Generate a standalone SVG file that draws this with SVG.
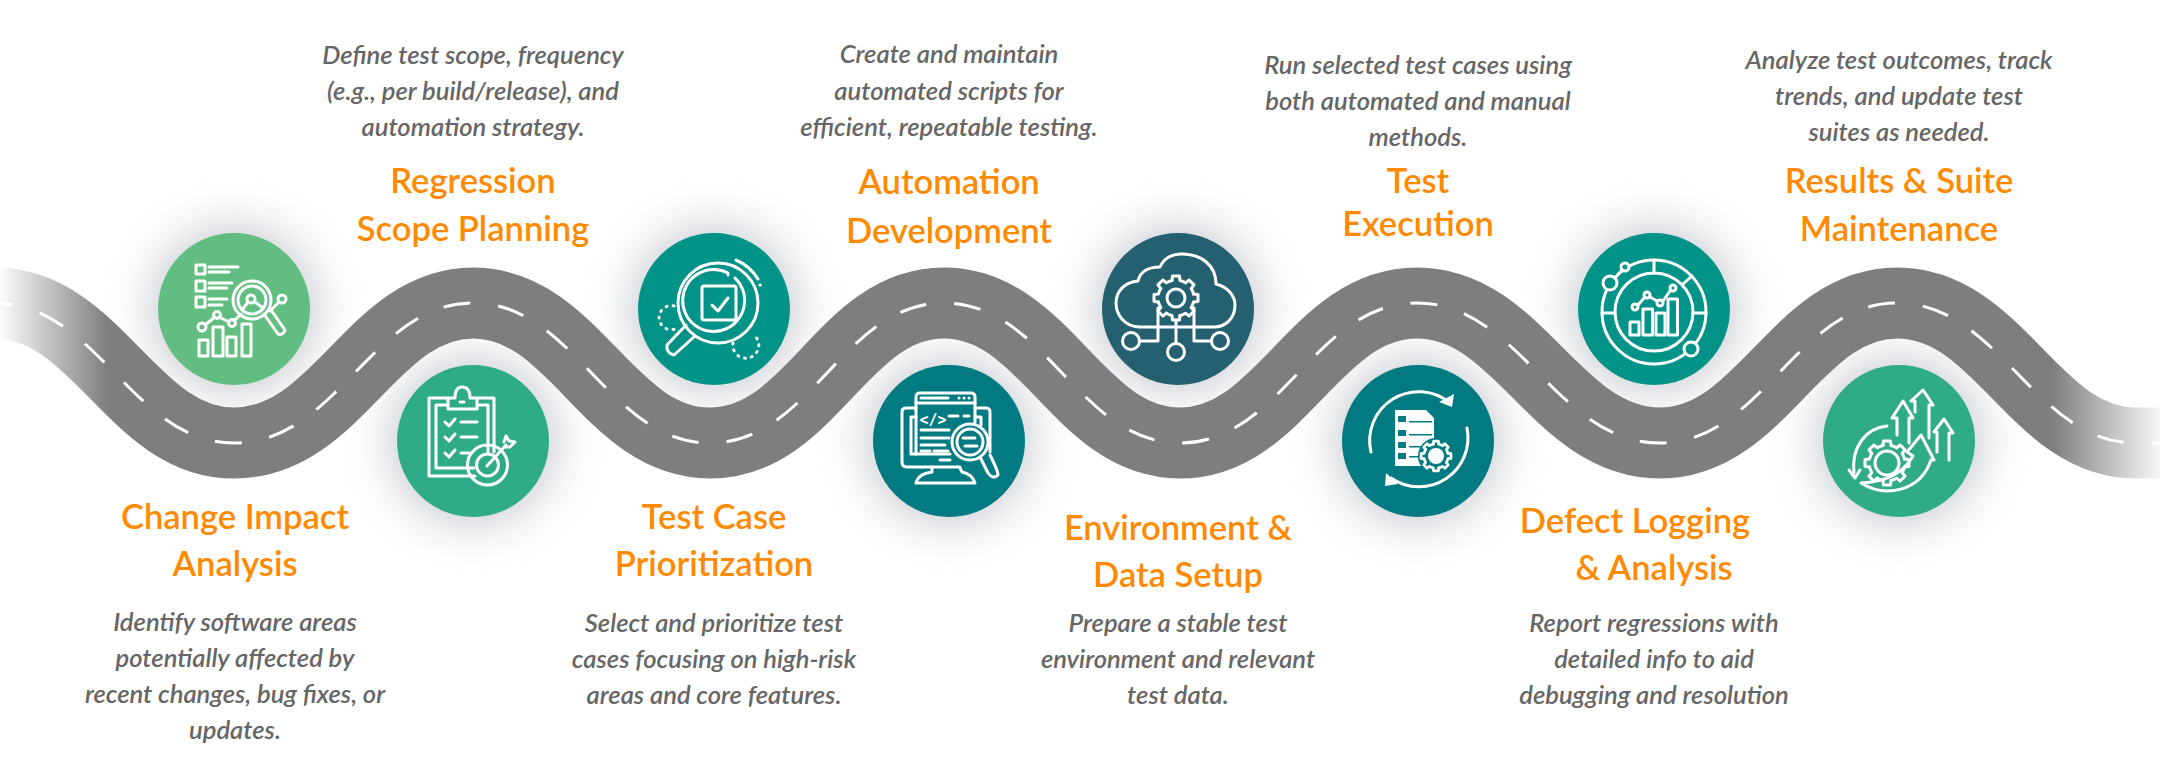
<svg xmlns="http://www.w3.org/2000/svg" xmlns:xlink="http://www.w3.org/1999/xlink" width="2160" height="780" viewBox="0 0 2160 780">
<style>
text{font-family:"Lato","Liberation Sans",sans-serif;text-anchor:middle}
.t{font-size:34.5px;fill:#ff8a00;font-weight:600}
.d{font-size:25.6px;fill:#666;font-style:italic;font-weight:600}
.disc{stroke:none}
.i{fill:none;stroke:#fff;stroke-width:3;stroke-linecap:round;stroke-linejoin:round}
.f{fill:#fff;stroke:none}
.sh{fill:#8d93a0;opacity:.55;filter:url(#blur)}
</style>
<defs>
<filter id="blur" x="-70%" y="-70%" width="240%" height="240%"><feGaussianBlur stdDeviation="24"/></filter>
<linearGradient id="roadg" gradientUnits="userSpaceOnUse" x1="0" y1="0" x2="2160" y2="0">
<stop offset="0" stop-color="#7e7e7e" stop-opacity="0.03"/>
<stop offset="0.05" stop-color="#7e7e7e"/>
<stop offset="0.95" stop-color="#7e7e7e"/>
<stop offset="1" stop-color="#7e7e7e" stop-opacity="0.06"/>
</linearGradient>
<path id="centre" d="M-6 303C98 303 132 443 234 443C338 443 372 303 473 303C575 303 608 443 710 443C812 443 842 303 944 303C1046 303 1078 443 1180 443C1282 443 1314 303 1417 303C1520 303 1556 443 1660 443C1762 443 1796 303 1897 303C2000 303 2034 443 2136 443L2170 443"/>
<g id="gt"><path d="M-4 -17.5L-3.5 -22L3.5 -22L4 -17.5A18 18 0 0 1 9.6 -15.2"/></g>
<g id="gear">
<use href="#gt"/><use href="#gt" transform="rotate(45)"/><use href="#gt" transform="rotate(90)"/><use href="#gt" transform="rotate(135)"/><use href="#gt" transform="rotate(180)"/><use href="#gt" transform="rotate(225)"/><use href="#gt" transform="rotate(270)"/><use href="#gt" transform="rotate(315)"/>
</g>
</defs>
<g id="shadows">
<circle class="sh" cx="234" cy="309" r="80"/><circle class="sh" cx="473" cy="441" r="80"/><circle class="sh" cx="714" cy="309" r="80"/><circle class="sh" cx="949" cy="441" r="80"/><circle class="sh" cx="1178" cy="309" r="80"/><circle class="sh" cx="1418" cy="441" r="80"/><circle class="sh" cx="1654" cy="309" r="80"/><circle class="sh" cx="1899" cy="441" r="80"/>
</g>
<g id="connectors">
<use href="#centre" fill="none" stroke="url(#roadg)" stroke-width="71"/>
<use href="#centre" fill="none" stroke="#fff" stroke-width="3" stroke-dasharray="27 28" stroke-dashoffset="8"/>
</g>

<g id="node-1">
<circle class="disc" cx="234" cy="309" r="76" fill="#62be80"/>
<g class="i">
<rect x="196" y="265" width="9" height="9"/><rect x="196" y="281" width="9" height="10"/><rect x="196" y="297" width="9" height="10"/>
<path d="M209 267H238M209 272H229M209 283H232M209 288H227M209 299H227M209 305H222"/>
<circle cx="252" cy="300" r="19"/><circle cx="252" cy="300" r="14"/><circle cx="251" cy="299" r="4"/>
<path d="M242 310L248 302M255 302L263 308"/>
<path d="M264 314L278 334Q283 336 285 330L271 310"/>
<path d="M205 325L215 317M219 317L229 322M234 321L241 314M270 311L279 302"/>
<circle cx="202" cy="327" r="4"/><circle cx="217" cy="315" r="3.5"/><circle cx="232" cy="323" r="3.5"/><circle cx="282" cy="299" r="4"/>
<rect x="199" y="340" width="9" height="16"/><rect x="213" y="327" width="10" height="29"/><rect x="227" y="337" width="9" height="19"/><rect x="242" y="324" width="9" height="32"/>
</g>
<text class="t" x="235" y="529">Change Impact</text><text class="t" x="235" y="576">Analysis</text>
<text class="d" x="235" y="631">Identify software areas</text><text class="d" x="235" y="667">potentially affected by</text><text class="d" x="235" y="703">recent changes, bug fixes, or</text><text class="d" x="235" y="739">updates.</text>
</g>

<g id="node-2">
<circle class="disc" cx="473" cy="441" r="76" fill="#30ab87"/>
<g class="i">
<path d="M448 398H429V476H475M478 398H494V452"/><path d="M448 405H436V468H474M478 405H488V452"/>
<path d="M448 409V398H455Q455 387 462 387Q470 387 470 398H477V409Z"/><path d="M460 402H464"/>
<path d="M445 422L449 426L455 419M461 422H477M445 437L449 441L455 434M461 437H477M445 453L449 457L455 450M461 453H470"/>
<circle cx="487.500" cy="465" r="20"/><circle cx="487.500" cy="465" r="11"/>
<path d="M487 466L506 445M504 442L506 436L509 441L515 442L510 447L505 447"/>
</g>
<text class="t" x="473" y="193">Regression</text><text class="t" x="473" y="241">Scope Planning</text>
<text class="d" x="473" y="64">Define test scope, frequency</text><text class="d" x="473" y="100">(e.g., per build/release), and</text><text class="d" x="473" y="136">automation strategy.</text>
</g>

<g id="node-3">
<circle class="disc" cx="714" cy="309" r="76" fill="#019288"/>
<g class="i">
<circle cx="718" cy="303" r="40"/><path d="M728 273A31 31 0 1 0 735 278"/>
<rect x="702" y="286" width="34" height="34" rx="2"/>
<path d="M712 305L718 311L728 298"/>
<path d="M736 260Q750 266 758 279"/><path d="M760 285h.1M728 275h.1"/>
<path d="M686 325L667 345Q666 353 674 355L695 336"/>
<path d="M674 306A12 12 0 1 0 675 329" stroke-dasharray="1 6"/>
<path d="M733 343A13 13 0 1 0 755 336" stroke-dasharray="1 6"/>
</g>
<text class="t" x="714" y="529">Test Case</text><text class="t" x="714" y="576">Prioritization</text>
<text class="d" x="714" y="632">Select and prioritize test</text><text class="d" x="714" y="668">cases focusing on high-risk</text><text class="d" x="714" y="704">areas and core features.</text>
</g>

<g id="node-4">
<circle class="disc" cx="949" cy="441" r="76" fill="#017a82"/>
<g class="i">
<path d="M916 408H906Q902 408 902 412V462Q902 467 907 467H960M975 408H986Q990 408 990 412V452"/>
<path d="M916 417H911V454H950M975 417H981V425"/>
<path d="M916 454V397Q916 393 920 393H971Q975 393 975 397V422"/><path d="M916 403H975"/>
<path d="M921 398H948M959 398h.1M964 398h.1M969 398h.1"/>
<path d="M949 416H958M964 416H969M921 430H949M921 438H949M921 445H945M921 451H930M934 451H948"/>
<circle cx="970" cy="442" r="18"/><circle cx="970" cy="442" r="13"/>
<path d="M963 438H975M965 446H977"/>
<path d="M980 457L988 473Q993 480 998 475Q998 471 990 455"/>
<path d="M940 460H950M932 467L932 472Q918 474 916 483H975Q972 474 962 472L960 468"/>
</g>
<text x="933" y="425" style="font-family:'DejaVu Sans Mono',monospace;font-size:15px;font-weight:700;fill:#fff;text-anchor:middle">&lt;/&gt;</text>
<text class="t" x="949" y="194">Automation</text><text class="t" x="949" y="243">Development</text>
<text class="d" x="949" y="63">Create and maintain</text><text class="d" x="949" y="100">automated scripts for</text><text class="d" x="949" y="136">efficient, repeatable testing.</text>
</g>

<g id="node-5">
<circle class="disc" cx="1178" cy="309" r="76" fill="#256070"/>
<g class="i">
<path d="M1158 327H1140C1125 327 1116 315 1116 303C1116 291 1125 282 1138 281C1140 272 1148 267 1160 267C1164 258 1172 254 1182 254C1202 254 1216 266 1216 284C1228 287 1235 296 1235 305C1235 318 1226 327 1214 327H1158"/>
<path d="M1158 308V341H1140M1194 308V341H1211M1176 320V343"/>
<circle cx="1131" cy="341" r="8.500"/><circle cx="1220" cy="341" r="8.500"/><circle cx="1176" cy="352" r="8.500"/>
<circle cx="1176" cy="298" r="9"/>
<use href="#gear" transform="translate(1176 298)"/>
</g>
<text class="t" x="1178" y="540">Environment &amp;</text><text class="t" x="1178" y="587">Data Setup</text>
<text class="d" x="1178" y="632">Prepare a stable test</text><text class="d" x="1178" y="668">environment and relevant</text><text class="d" x="1178" y="704">test data.</text>
</g>

<g id="node-6">
<circle class="disc" cx="1418" cy="441" r="76" fill="#017a82"/>
<path class="f" d="M1395 410H1426L1434 418V462L1428 466H1395Z"/>
<g fill="#017a82"><rect x="1398" y="416" width="8" height="6"/><rect x="1398" y="430" width="8" height="6"/><rect x="1398" y="442" width="8" height="6"/><rect x="1398" y="453" width="8" height="6"/><rect x="1409" y="421" width="23" height="1.500"/><rect x="1409" y="434" width="23" height="1.500"/><rect x="1409" y="446" width="16" height="1.500"/><rect x="1409" y="456" width="12" height="1.500"/><circle cx="1436" cy="456" r="18"/></g>
<g class="i">
<path d="M1371 452A49 49 0 0 1 1450 403"/><path d="M1467 428A49 49 0 0 1 1391 478"/>
<g transform="translate(1436 456) scale(.68)" stroke-width="4"><use href="#gear"/></g>
</g>
<circle class="f" cx="1436" cy="456" r="8"/>
<path class="f" d="M1454 394L1452 407L1439 402Z"/>
<path class="f" d="M1386 473L1385 486L1398 484Z"/>
<text class="t" x="1418" y="193">Test</text><text class="t" x="1418" y="236">Execution</text>
<text class="d" x="1418" y="74">Run selected test cases using</text><text class="d" x="1418" y="110">both automated and manual</text><text class="d" x="1418" y="146">methods.</text>
</g>

<g id="node-7">
<circle class="disc" cx="1654" cy="309" r="76" fill="#019288"/>
<g class="i">
<circle cx="1654" cy="312" r="52"/><circle cx="1654" cy="312" r="39"/>
<path d="M1654 260V273M1683 284L1692 276M1602 313H1615M1693 313H1706"/>
<circle cx="1610" cy="283" r="7" fill="#019288"/><circle cx="1625" cy="267" r="4" fill="#019288"/><path d="M1615 278L1622 270"/>
<circle cx="1691" cy="349" r="7" fill="#019288"/>
<rect x="1630" y="322" width="9" height="13"/><rect x="1643" y="309" width="9.500" height="26"/><rect x="1656" y="313" width="9" height="22"/><rect x="1668" y="299" width="9.500" height="36"/>
<path d="M1638 305L1644 298M1650 297L1657 301M1663 301L1670 291"/>
<circle cx="1635" cy="307" r="3"/><circle cx="1647" cy="295" r="3"/><circle cx="1660" cy="303" r="3"/><circle cx="1673" cy="288" r="3"/>
</g>
<text class="t" x="1635" y="533">Defect Logging</text><text class="t" x="1654" y="580">&amp; Analysis</text>
<text class="d" x="1654" y="632">Report regressions with</text><text class="d" x="1654" y="668">detailed info to aid</text><text class="d" x="1654" y="704">debugging and resolution</text>
</g>

<g id="node-8">
<circle class="disc" cx="1899" cy="441" r="76" fill="#30ab87"/>
<g class="i">
<use href="#gear" transform="translate(1887 463)"/><circle cx="1887" cy="463" r="12"/>
<path d="M1897 435V418H1892L1903 401L1913 418H1909V443"/>
<path d="M1915 412V401H1911L1923 390L1933 405H1929V438"/>
<path d="M1937 452V432H1934L1944 419L1953 433H1949V460"/>
<path d="M1887 426C1866 428 1851 447 1854 473"/><path d="M1849 470L1855 478L1860 470"/>
<path d="M1861 483C1885 498 1920 492 1931 460L1934 460L1921 435L1907 452L1913 456C1905 470 1890 482 1861 483"/>
</g>
<text class="t" x="1899" y="193">Results &amp; Suite</text><text class="t" x="1899" y="241">Maintenance</text>
<text class="d" x="1899" y="69">Analyze test outcomes, track</text><text class="d" x="1899" y="105">trends, and update test</text><text class="d" x="1899" y="141">suites as needed.</text>
</g>
</svg>
